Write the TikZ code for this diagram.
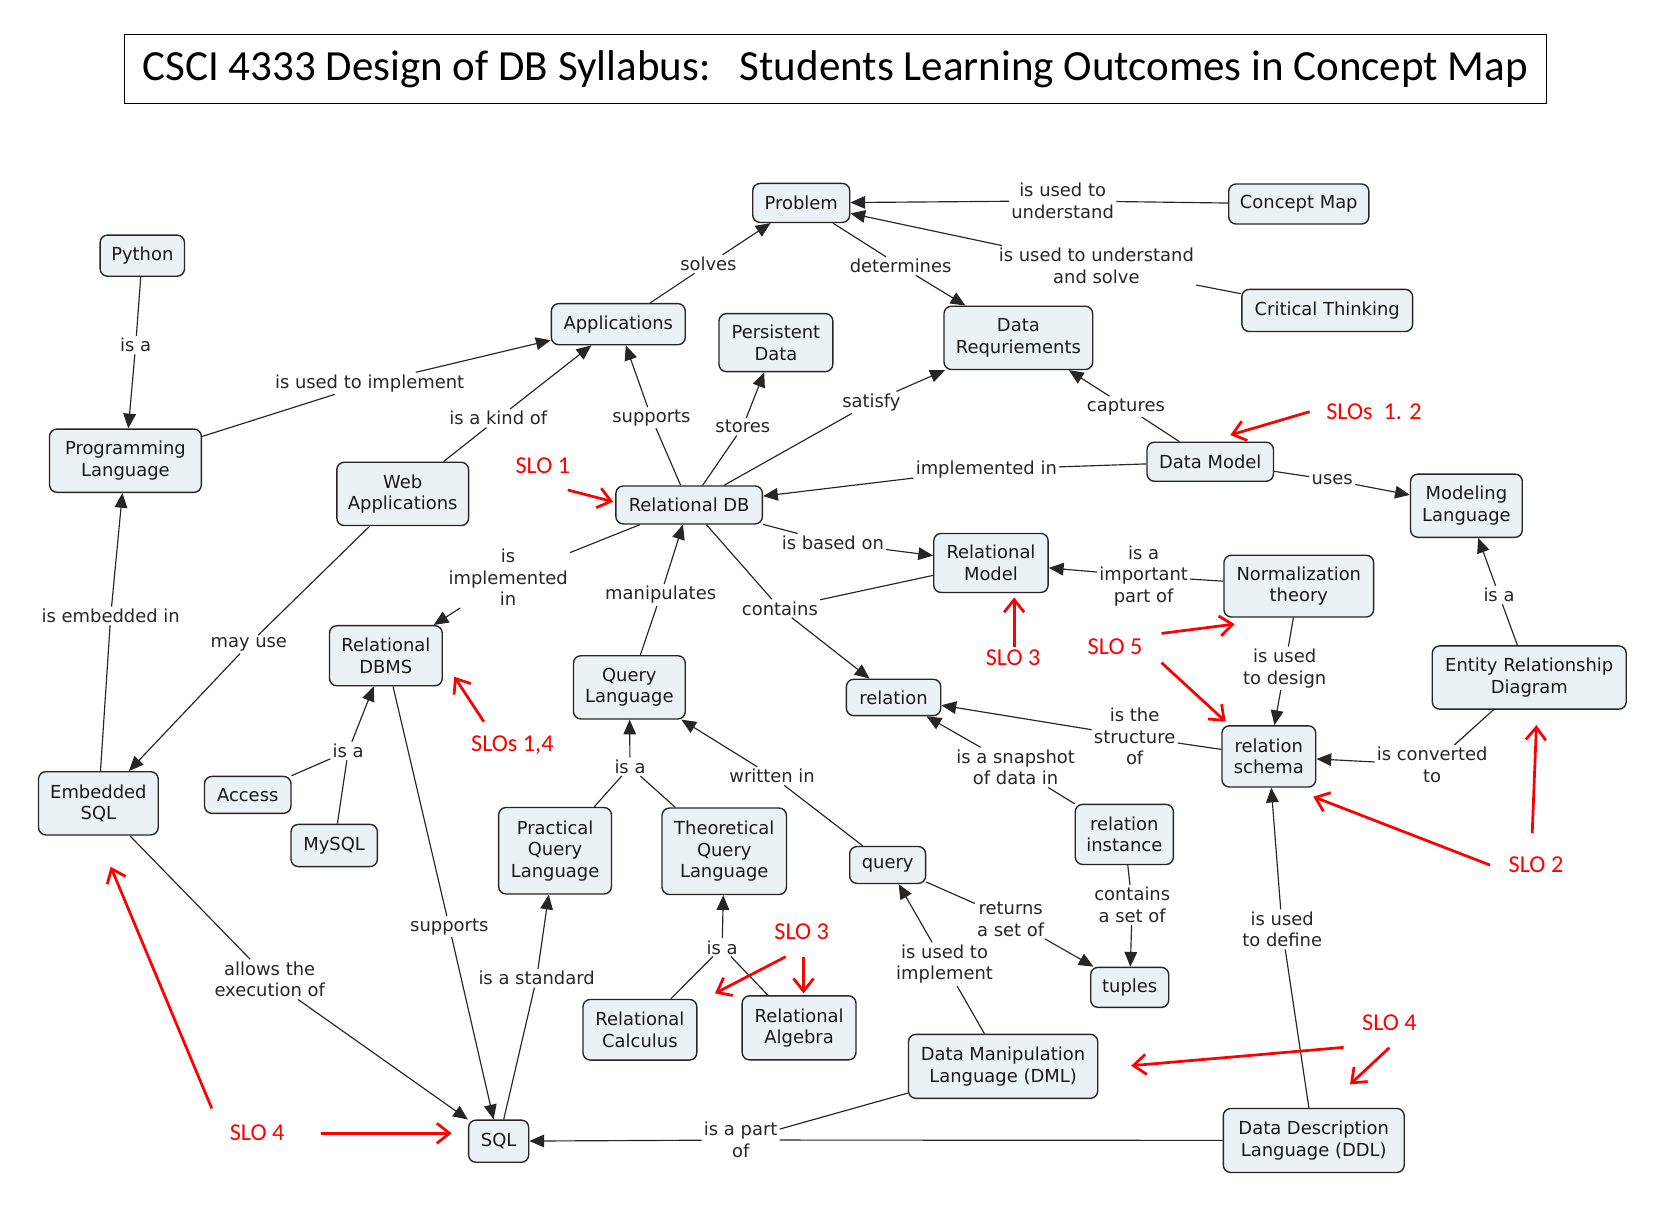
\documentclass[tikz,border=0pt]{standalone}
\usepackage{fontspec}
\setmainfont{DejaVu Sans}
\newfontfamily\carlito{Carlito}
\usetikzlibrary{arrows.meta}
\definecolor{boxfill}{RGB}{234,242,246}
\newcommand\mapfont{\fontsize{17}{20.5}\selectfont}
\newcommand\slofont{\carlito\fontsize{23}{27}\selectfont}
\newcommand\titlefnt{\carlito\fontsize{40.8}{48}\selectfont}
\begin{document}
\begin{tikzpicture}[x=1pt,y=-1pt,
  cbox/.style={draw=black!85, line width=1.3pt, rounded corners=7pt, fill=boxfill, align=center, inner sep=1pt, font=\mapfont, text=black!90},
  lbl/.style={inner sep=2pt, align=center, font=\mapfont, text=black!85},
  cline/.style={draw=black!85, line width=1.1pt},
  carrow/.style={cline, -{Triangle[length=14pt,width=12pt]}},
  slo/.style={text=red, font=\slofont, inner sep=1pt},
  redarr/.style={draw=red, line width=2.6pt, -{Straight Barb[length=12pt,width=19pt]}}
]
\fill[white] (0,0) rectangle (1568,1153);
\useasboundingbox (0,0) rectangle (1568,1153);

% title
\node[draw=black, line width=1.2pt, minimum width=1349pt, minimum height=65pt, inner sep=0pt, font=\titlefnt] (title) at (792.5,65.5) {CSCI 4333 Design of DB Syllabus:\ \ \ Students Learning Outcomes in Concept Map};

% concepts
\node[cbox, minimum width=92pt, minimum height=37pt] (problem) at (760,192.5) {Problem};
\node[cbox, minimum width=133pt, minimum height=38pt] (conceptmap) at (1232,193.5) {Concept Map};
\node[cbox, minimum width=80pt, minimum height=39pt] (python) at (135,242.5) {Python};
\node[cbox, minimum width=162pt, minimum height=40pt] (critical) at (1259,294.5) {Critical Thinking};
\node[cbox, minimum width=127pt, minimum height=39pt] (apps) at (586.5,307.5) {Applications};
\node[cbox, minimum width=108pt, minimum height=55pt] (persist) at (736,325) {Persistent\\Data};
\node[cbox, minimum width=141pt, minimum height=60pt] (datareq) at (966,320.5) {Data\\Requriements};
\node[cbox, minimum width=144pt, minimum height=60pt] (proglang) at (119,437) {Programming\\Language};
\node[cbox, minimum width=125pt, minimum height=60pt] (webapps) at (382,468.5) {Web\\Applications};
\node[cbox, minimum width=139pt, minimum height=36pt] (reldb) at (653.7,479) {Relational DB};
\node[cbox, minimum width=120pt, minimum height=37pt] (datamodel) at (1148,438) {Data Model};
\node[cbox, minimum width=106pt, minimum height=60pt] (modeling) at (1391,479.7) {Modeling\\Language};
\node[cbox, minimum width=108.5pt, minimum height=56pt] (relmodel) at (940,534) {Relational\\Model};
\node[cbox, minimum width=142pt, minimum height=58.5pt] (normal) at (1232,556) {Normalization\\theory};
\node[cbox, minimum width=107pt, minimum height=57pt] (rdbms) at (366,622) {Relational\\DBMS};
\node[cbox, minimum width=106pt, minimum height=60pt] (querylang) at (597,652) {Query\\Language};
\node[cbox, minimum width=89.5pt, minimum height=34.5pt] (relation) at (847.6,661.6) {relation};
\node[cbox, minimum width=184pt, minimum height=60pt] (erd) at (1450.6,642.7) {Entity Relationship\\Diagram};
\node[cbox, minimum width=89pt, minimum height=58pt] (relschema) at (1203.6,717.5) {relation\\schema};
\node[cbox, minimum width=113.5pt, minimum height=60pt] (esql) at (93.3,762) {Embedded\\SQL};
\node[cbox, minimum width=82pt, minimum height=35pt] (access) at (235,754) {Access};
\node[cbox, minimum width=82pt, minimum height=40pt] (mysql) at (317,802) {MySQL};
\node[cbox, minimum width=107pt, minimum height=82pt] (pql) at (526.5,807) {Practical\\Query\\Language};
\node[cbox, minimum width=118pt, minimum height=82pt] (tql) at (687,807.5) {Theoretical\\Query\\Language};
\node[cbox, minimum width=72pt, minimum height=35pt] (query) at (842,820.5) {query};
\node[cbox, minimum width=93pt, minimum height=57pt] (relinst) at (1066.5,791.5) {relation\\instance};
\node[cbox, minimum width=74pt, minimum height=38pt] (tuples) at (1071.6,936.6) {tuples};
\node[cbox, minimum width=108pt, minimum height=57.5pt] (relcalc) at (607,976.8) {Relational\\Calculus};
\node[cbox, minimum width=108pt, minimum height=60.7pt] (relalg) at (758,975) {Relational\\Algebra};
\node[cbox, minimum width=179.5pt, minimum height=60.7pt] (dml) at (951.5,1011.5) {Data Manipulation\\Language (DML)};
\node[cbox, minimum width=57pt, minimum height=40pt] (sql) at (473,1082.5) {SQL};
\node[cbox, minimum width=171.6pt, minimum height=60.7pt] (ddl) at (1246.2,1081.8) {Data Description\\Language (DDL)};

% linking phrases
\node[lbl] (lisa1) at (128.7,327.3) {is a};
\node[lbl] (limpl) at (350.6,363.6) {is used to implement};
\node[lbl] (lkind) at (472.6,396.8) {is a kind of};
\node[lbl] (lsolves) at (672,250.5) {solves};
\node[lbl] (ldeterm) at (854.3,252.4) {determines};
\node[lbl] (lunder) at (1008,190.5) {is used to\\understand};
\node[lbl] (lundsol) at (1040,252) {is used to understand\\and solve};
\node[lbl] (lsupp1) at (617.9,396.2) {supports};
\node[lbl] (lstores) at (704.6,404.8) {stores};
\node[lbl] (lsatisfy) at (826.6,381.7) {satisfy};
\node[lbl] (lcapt) at (1068,385.8) {captures};
\node[lbl] (limplin) at (935.6,445.2) {implemented in};
\node[lbl] (luses) at (1263.7,455.4) {uses};
\node[lbl] (lisimpl) at (482,547.6) {is\\implemented\\in};
\node[lbl] (lbased) at (790,514.8) {is based on};
\node[lbl] (lmanip) at (626.7,564.4) {manipulates};
\node[lbl] (lcont) at (739.8,577.1) {contains};
\node[lbl] (limppart) at (1084.8,546.4) {is a\\important\\part of};
\node[lbl] (ldesign) at (1218.6,634) {is used\\to design};
\node[lbl] (lisa2) at (1421.9,564.4) {is a};
\node[lbl] (lconv) at (1358.5,725.7) {is converted\\to};
\node[lbl] (lstruct) at (1076.3,698.8) {is the\\structure\\of};
\node[lbl] (lsnap) at (963.4,727.9) {is a snapshot\\of data in};
\node[lbl] (lsetof) at (1074,858.5) {contains\\a set of};
\node[lbl] (lreturns) at (958.7,872) {returns\\a set of};
\node[lbl] (lwritten) at (732.4,736.1) {written in};
\node[lbl] (lisa3) at (597.6,727.3) {is a};
\node[lbl] (lisa4) at (685,898.6) {is a};
\node[lbl] (luseimpl) at (896,914.5) {is used to\\implement};
\node[lbl] (ldefine) at (1216.3,881.6) {is used\\to define};
\node[lbl] (lpart) at (702.6,1081.4) {is a part\\of};
\node[lbl] (lstd) at (509,928) {is a standard};
\node[lbl] (lsupp2) at (426.2,879) {supports};
\node[lbl] (lallows) at (255.8,929) {allows the\\execution of};
\node[lbl] (lembed) at (105,584.3) {is embedded in};
\node[lbl] (lmayuse) at (236,611.2) {may use};
\node[lbl] (lisa5) at (330.3,712.4) {is a};

% links
\draw[cline] (python) -- (lisa1); \draw[carrow] (lisa1) -- (proglang);
\draw[cline] (proglang) -- (limpl); \draw[carrow] (limpl) -- (apps);
\draw[cline] (webapps) -- (lkind); \draw[carrow] (lkind) -- (apps);
\draw[cline] (apps) -- (lsolves); \draw[carrow] (lsolves) -- (problem);
\draw[cline] (problem) -- (ldeterm); \draw[carrow] (ldeterm) -- (datareq);
\draw[cline] (conceptmap) -- (lunder); \draw[carrow] (lunder) -- (problem);
\draw[cline] (critical) -- (lundsol); \draw[carrow] (lundsol) -- (problem);
\draw[cline] (reldb) -- (lsupp1); \draw[carrow] (lsupp1) -- (apps);
\draw[cline] (reldb) -- (lstores); \draw[carrow] (lstores) -- (persist);
\draw[cline] (reldb) -- (lsatisfy); \draw[carrow] (lsatisfy) -- (datareq);
\draw[cline] (datamodel) -- (lcapt); \draw[carrow] (lcapt) -- (datareq);
\draw[cline] (datamodel) -- (limplin); \draw[carrow] (limplin) -- (reldb);
\draw[cline] (datamodel) -- (luses); \draw[carrow] (luses) -- (modeling);
\draw[cline] (reldb) -- (lisimpl); \draw[carrow] (lisimpl) -- (rdbms);
\draw[cline] (reldb) -- (lbased); \draw[carrow] (lbased) -- (relmodel);
\draw[cline] (querylang) -- (lmanip); \draw[carrow] (lmanip) -- (reldb);
\draw[cline] (reldb) -- (lcont); \draw[cline] (relmodel) -- (lcont); \draw[carrow] (lcont) -- (relation);
\draw[cline] (normal) -- (limppart); \draw[carrow] (limppart) -- (relmodel);
\draw[cline] (normal) -- (ldesign); \draw[carrow] (ldesign) -- (relschema);
\draw[cline] (erd) -- (lisa2); \draw[carrow] (lisa2) -- (modeling);
\draw[cline] (erd) -- (lconv); \draw[carrow] (lconv) -- (relschema);
\draw[cline] (relschema) -- (lstruct); \draw[carrow] (lstruct) -- (relation);
\draw[cline] (relinst) -- (lsnap); \draw[carrow] (lsnap) -- (relation);
\draw[cline] (relinst) -- (lsetof); \draw[carrow] (lsetof) -- (tuples);
\draw[cline] (query) -- (lreturns); \draw[carrow] (lreturns) -- (tuples);
\draw[cline] (query) -- (lwritten); \draw[carrow] (lwritten) -- (querylang);
\draw[cline] (pql) -- (lisa3); \draw[cline] (tql) -- (lisa3); \draw[carrow] (lisa3) -- (querylang);
\draw[cline] (relcalc) -- (lisa4); \draw[cline] (relalg) -- (lisa4); \draw[carrow] (lisa4) -- (tql);
\draw[cline] (dml) -- (luseimpl); \draw[carrow] (luseimpl) -- (query);
\draw[cline] (ddl) -- (ldefine); \draw[carrow] (ldefine) -- (relschema);
\draw[cline] (dml) -- (lpart); \draw[cline] (ddl) -- (lpart); \draw[carrow] (lpart) -- (sql);
\draw[cline] (sql) -- (lstd); \draw[carrow] (lstd) -- (pql);
\draw[cline] (rdbms) -- (lsupp2); \draw[carrow] (lsupp2) -- (sql);
\draw[cline] (esql) -- (lallows); \draw[carrow] (lallows) -- (sql);
\draw[cline] (esql) -- (lembed); \draw[carrow] (lembed) -- (proglang);
\draw[cline] (webapps) -- (lmayuse); \draw[carrow] (lmayuse) -- (esql);
\draw[cline] (access) -- (lisa5); \draw[cline] (mysql) -- (lisa5); \draw[carrow] (lisa5) -- (rdbms);

% SLO annotations
\node[slo] (slo1) at (515,442) {SLO 1};
\node[slo] (slo12) at (1303.3,390.5) {SLOs\ \ 1. 2};
\node[slo] (slo3a) at (961,624) {SLO 3};
\node[slo] (slo5) at (1057.7,613.4) {SLO 5};
\node[slo] (slo14) at (486,706.7) {SLOs 1,4};
\node[slo] (slo2) at (1457,820.6) {SLO 2};
\node[slo] (slo3b) at (760.5,883.8) {SLO 3};
\node[slo] (slo4a) at (1318,969.8) {SLO 4};
\node[slo] (slo4b) at (243.9,1074.4) {SLO 4};

\coordinate (r1a) at (538.6,464.8);   \coordinate (r1b) at (581.6,475.9);
\coordinate (r2a) at (1242.3,390.5);  \coordinate (r2b) at (1167,412.7);
\coordinate (r3a) at (962,614);       \coordinate (r3b) at (962,566.7);
\coordinate (r4a) at (1101.8,600.8);  \coordinate (r4b) at (1171.2,592);
\coordinate (r5a) at (1101.8,628.6);  \coordinate (r5b) at (1162.7,684.6);
\coordinate (r6a) at (459,684.6);     \coordinate (r6b) at (430.9,641.9);
\coordinate (r7a) at (1413.4,820.6);  \coordinate (r7b) at (1245.7,755.7);
\coordinate (r8a) at (1453.4,790.5);  \coordinate (r8b) at (1457.4,687.8);
\coordinate (r9a) at (745.3,907.5);   \coordinate (r9b) at (678.2,942.3);
\coordinate (r10a) at (762.2,907.5);  \coordinate (r10b) at (762.2,942.3);
\coordinate (r11a) at (1274.5,993.5); \coordinate (r11b) at (1073,1010.9);
\coordinate (r12a) at (1317.9,993.8); \coordinate (r12b) at (1280.6,1028.6);
\coordinate (r13a) at (304.2,1075);   \coordinate (r13b) at (428.5,1075);
\coordinate (r14a) at (200.9,1051.4); \coordinate (r14b) at (105,822.1);

\foreach \i in {1,...,14} {\draw[redarr] (r\i a) -- (r\i b);}
\end{tikzpicture}
\end{document}
